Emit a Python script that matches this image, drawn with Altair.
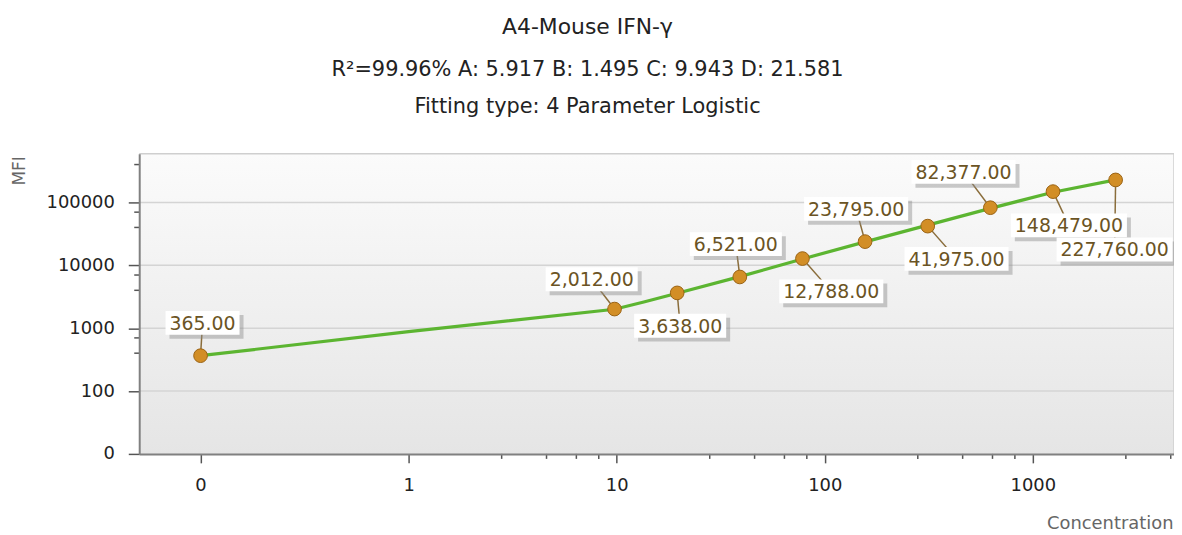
import altair as alt
import pandas as pd

# ---------------- data ----------------
concentration = [0, 9.765625, 19.53125, 39.0625, 78.125, 156.25, 312.5, 625, 1250, 2500]
mfi = [365, 2012, 3638, 6521, 12788, 23795, 41975, 82377, 148479, 227760]
point_labels = ["365.00", "2,012.00", "3,638.00", "6,521.00", "12,788.00",
                "23,795.00", "41,975.00", "82,377.00", "148,479.00", "227,760.00"]

curve_conc = [0, 1, 9.77, 13.5, 19.53, 39.06, 78.13, 156.25, 312.5, 625, 1250, 2500]
curve_mfi = [365, 880, 2000, 2600, 3600, 6600, 12600, 23600, 43500, 80500, 145000, 228000]

x_major_ticks = [0.1, 1, 10, 100, 1000]          # 0.1 is the "0" position
x_minor_ticks = [2.8, 4.6, 6.4, 8.2, 28, 46, 64, 82, 280, 460, 640, 820, 2800, 4600]
y_major_ticks = [10, 100, 1000, 10000, 100000]   # 10 is the "0" position
y_minor_ticks = [400, 700, 4000, 7000, 40000, 70000, 400000]
y_grid = [100, 1000, 10000, 100000]

title_text = "A4-Mouse IFN-γ"
subtitle_1 = "R²=99.96% A: 5.917 B: 1.495 C: 9.943 D: 21.581"
subtitle_2 = "Fitting type: 4 Parameter Logistic"

# ---------------- layout ----------------
W, H = 1041, 302
FONT = "DejaVu Sans"
LABEL_FS = 19
# (dx, dy) of each label box centre from its point, in pixels
LABEL_LAYOUT = [(2, -33), (-23, -30), (3, 33), (-4, -33), (29, 33),
                (-9, -33), (29, 33), (-27, -36), (16, 34), (-1, 70)]

pts = pd.DataFrame({"conc": concentration, "mfi": mfi, "label": point_labels,
                    "idx": list(range(len(mfi)))})
curve = pd.DataFrame({"conc": curve_conc, "mfi": curve_mfi})
one = pd.DataFrame({"a": [0]})

xs = alt.Scale(type="log", domain=[0.05072, 4770], nice=False)
ys = alt.Scale(type="log", domain=[10, 595300], nice=False)

x_axis = alt.Axis(values=x_major_ticks, format="d",
                  labelExpr="datum.value < 0.5 ? '0' : datum.label",
                  grid=False, tickSize=9, tickColor="#555", tickWidth=1.5,
                  domainColor="#808080", domainWidth=2,
                  labelFont=FONT, labelFontSize=18, labelColor="#222", labelPadding=14,
                  title="Concentration", titleFont=FONT, titleFontSize=18,
                  titleFontWeight="normal", titleColor="#666",
                  titleX=1040, titleY=75, titleAlign="right", titleBaseline="alphabetic",
                  zindex=2)
y_axis = alt.Axis(values=y_major_ticks, format="d",
                  labelExpr="datum.value <= 10 ? '0' : datum.label",
                  grid=False, tickSize=11, tickColor="#555", tickWidth=1.5,
                  domainColor="#808080", domainWidth=2,
                  labelFont=FONT, labelFontSize=18, labelColor="#222", labelPadding=14,
                  title="MFI", titleFont=FONT, titleFontSize=17,
                  titleFontWeight="normal", titleColor="#666",
                  titleAngle=270, titleX=-120, titleY=2, titleAlign="right",
                  titleBaseline="middle", zindex=2)

def X(field="xpos"):
    return alt.X(f"{field}:Q", scale=xs, axis=x_axis)

def Y(field="mfi"):
    return alt.Y(f"{field}:Q", scale=ys, axis=y_axis)

bg = alt.Chart(one).mark_rect(
    color=alt.Gradient(gradient="linear",
                       stops=[alt.GradientStop(color="#fbfbfb", offset=0),
                              alt.GradientStop(color="#e5e5e5", offset=1)],
                       x1=0, x2=0, y1=0, y2=1)
).encode(x=alt.value(0), x2=alt.value(W), y=alt.value(0), y2=alt.value(H))

border = alt.layer(
    alt.Chart(one).mark_rule(color="#cfcfcf", strokeWidth=1.5).encode(
        x=alt.value(0), x2=alt.value(W), y=alt.value(0)),
    alt.Chart(one).mark_rule(color="#cfcfcf", strokeWidth=1.5).encode(
        x=alt.value(W), y=alt.value(0), y2=alt.value(H)),
)

grid = alt.Chart(pd.DataFrame({"v": y_grid})).mark_rule(
    color="#d4d4d4", strokeWidth=1.5).encode(
    y=Y("v"), x=alt.value(0), x2=alt.value(W))

xminor = alt.Chart(pd.DataFrame({"v": x_minor_ticks})).mark_rule(
    color="#555", strokeWidth=1.5).encode(
    x=X("v"), y=alt.value(H), y2=alt.value(H + 5))
yminor = alt.Chart(pd.DataFrame({"v": y_minor_ticks})).mark_rule(
    color="#555", strokeWidth=1.5).encode(
    y=Y("v"), x=alt.value(-5), x2=alt.value(0))

line = alt.Chart(curve).transform_calculate(
    xpos="datum.conc == 0 ? 0.1 : datum.conc"
).mark_line(color="#5cb531", strokeWidth=3.2, interpolate="linear").encode(
    x=X("xpos"), y=Y("mfi"))

base = alt.Chart(pts).transform_calculate(xpos="datum.conc == 0 ? 0.1 : datum.conc")

def text_width(s):
    w = 0.0
    for ch in s:
        w += 0.318 if ch in ",." else 0.636
    return w * LABEL_FS

leaders, shadows, boxes, texts = [], [], [], []
for i, (dx, dy) in enumerate(LABEL_LAYOUT):
    sub = base.transform_filter(f"datum.idx == {i}")
    hw = text_width(point_labels[i]) / 2 + 4
    hh = 12
    leaders.append(sub.mark_rule(color="#8a6d3b", strokeWidth=1.5,
                                 x2Offset=dx, y2Offset=dy).encode(
        x=X(), x2="xpos:Q", y=Y(), y2="mfi:Q"))
    shadows.append(sub.mark_rect(color="#8c8c8c", opacity=0.45,
                                 xOffset=dx - hw + 4, x2Offset=dx + hw + 4,
                                 yOffset=dy - hh + 4, y2Offset=dy + hh + 4).encode(
        x=X(), x2="xpos:Q", y=Y(), y2="mfi:Q"))
    boxes.append(sub.mark_rect(color="#ffffff", opacity=1,
                               xOffset=dx - hw, x2Offset=dx + hw,
                               yOffset=dy - hh, y2Offset=dy + hh).encode(
        x=X(), x2="xpos:Q", y=Y(), y2="mfi:Q"))
    texts.append(sub.mark_text(font=FONT, fontSize=LABEL_FS, color="#6b5424",
                               dx=dx, dy=dy + 1, align="center", baseline="middle").encode(
        x=X(), y=Y(), text="label:N"))

points = base.mark_circle(size=190, color="#d28e26", opacity=1,
                          stroke="#9a6314", strokeWidth=1).encode(x=X(), y=Y())

def title_line(txt, y, size):
    return alt.Chart(one).mark_text(text=txt, font=FONT, fontSize=size, color="#222",
                                    align="center", baseline="alphabetic").encode(
        x=alt.value(451), y=alt.value(y))

titles = alt.layer(title_line(title_text, -120, 22),
                   title_line(subtitle_1, -78, 21),
                   title_line(subtitle_2, -41, 21))

chart = alt.layer(
    bg, grid, border, line, *leaders, points, *shadows, *boxes, *texts,
    xminor, yminor, titles
).properties(
    width=W, height=H,
    padding={"left": 132, "top": 145, "right": 0, "bottom": 80},
    autosize=alt.AutoSizeParams(type="none"),
    background="#ffffff",
).configure_view(stroke=None)

chart.save("out.html", embed_options={"renderer": "svg", "actions": False})
